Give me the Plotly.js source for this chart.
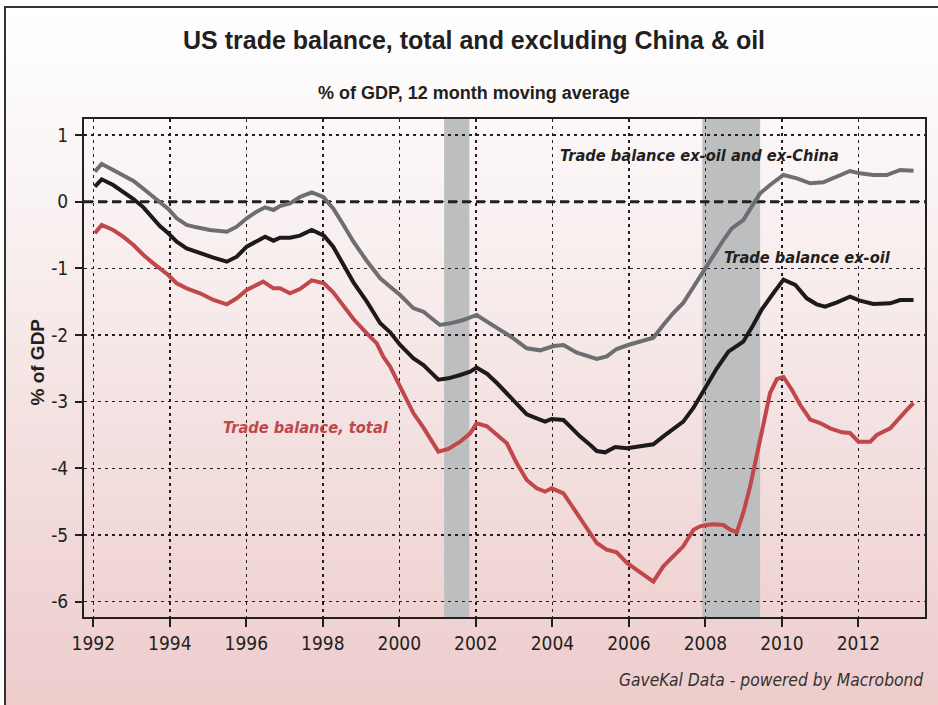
<!DOCTYPE html>
<html>
<head>
<meta charset="utf-8">
<script src="https://cdn.plot.ly/plotly-3.0.1.min.js"></script>
<style>
  html, body { margin:0; padding:0; background:#ffffff; }
  #frame { position:absolute; left:4px; top:6px; width:934px; height:699px;
           border-top:2px solid #333; border-left:2px solid #333;
           background:linear-gradient(to bottom, #ffffff 0%, #f9f1f1 30%, #f3dede 65%, #eecccc 100%); }
  #chart { position:absolute; left:0; top:0; width:938px; height:705px; }
</style>
</head>
<body>
<div id="frame"></div>
<div id="chart"></div>
<script>
// ---- data ----
const grayX = [1992.04,1992.22,1992.52,1992.78,1993.05,1993.35,1993.66,1993.96,1994.18,1994.44,1994.70,1995.05,1995.49,1995.75,1996.01,1996.27,1996.49,1996.71,1996.88,1997.14,1997.40,1997.71,1998.01,1998.27,1998.54,1998.80,1999.15,1999.50,1999.76,2000.02,2000.37,2000.63,2001.06,2001.33,2001.67,2002.02,2002.29,2002.63,2002.98,2003.33,2003.68,2004.03,2004.29,2004.64,2005.16,2005.42,2005.68,2005.98,2006.29,2006.64,2006.90,2007.16,2007.42,2007.69,2007.95,2008.21,2008.47,2008.69,2008.99,2009.21,2009.43,2009.69,2010.04,2010.39,2010.74,2011.08,2011.44,2011.78,2012.04,2012.39,2012.74,2013.09,2013.44];
const exOilExChina = [0.45,0.565,0.475,0.40,0.31,0.175,0.025,-0.11,-0.25,-0.35,-0.385,-0.425,-0.45,-0.375,-0.25,-0.15,-0.085,-0.125,-0.065,-0.025,0.07,0.14,0.07,-0.1,-0.35,-0.6,-0.89,-1.15,-1.275,-1.40,-1.60,-1.65,-1.85,-1.825,-1.775,-1.70,-1.80,-1.925,-2.05,-2.20,-2.23,-2.165,-2.15,-2.265,-2.36,-2.32,-2.21,-2.15,-2.10,-2.04,-1.85,-1.67,-1.52,-1.27,-1.05,-0.80,-0.575,-0.40,-0.275,-0.075,0.125,0.25,0.40,0.35,0.275,0.29,0.375,0.46,0.425,0.40,0.40,0.475,0.465];

const blackX = [1992.04,1992.22,1992.52,1992.78,1993.05,1993.31,1993.53,1993.74,1993.96,1994.18,1994.44,1994.79,1995.14,1995.49,1995.75,1996.01,1996.27,1996.49,1996.71,1996.88,1997.14,1997.40,1997.71,1998.03,1998.27,1998.54,1998.80,1999.15,1999.50,1999.76,2000.02,2000.37,2000.63,2001.02,2001.28,2001.59,2001.85,2002.02,2002.29,2002.55,2002.81,2003.07,2003.33,2003.59,2003.81,2003.98,2004.29,2004.46,2004.72,2004.99,2005.16,2005.38,2005.64,2005.95,2006.29,2006.64,2006.90,2007.16,2007.42,2007.69,2007.95,2008.30,2008.60,2008.99,2009.25,2009.47,2009.78,2010.04,2010.35,2010.65,2010.91,2011.13,2011.44,2011.78,2012.04,2012.39,2012.83,2013.09,2013.44];
const exOil = [0.225,0.335,0.25,0.15,0.04,-0.085,-0.225,-0.365,-0.475,-0.60,-0.70,-0.775,-0.84,-0.90,-0.825,-0.675,-0.585,-0.525,-0.585,-0.54,-0.54,-0.51,-0.425,-0.51,-0.675,-0.94,-1.21,-1.50,-1.825,-1.96,-2.15,-2.35,-2.45,-2.67,-2.65,-2.60,-2.55,-2.49,-2.58,-2.72,-2.87,-3.03,-3.19,-3.25,-3.30,-3.26,-3.275,-3.37,-3.52,-3.65,-3.74,-3.76,-3.68,-3.70,-3.67,-3.64,-3.52,-3.41,-3.30,-3.09,-2.84,-2.50,-2.25,-2.10,-1.85,-1.62,-1.37,-1.17,-1.25,-1.45,-1.54,-1.575,-1.51,-1.425,-1.485,-1.535,-1.525,-1.475,-1.475];

const redX = [1992.04,1992.22,1992.52,1992.78,1993.05,1993.31,1993.57,1993.96,1994.18,1994.44,1994.79,1995.14,1995.49,1995.75,1996.01,1996.27,1996.44,1996.71,1996.88,1997.14,1997.40,1997.71,1998.03,1998.27,1998.54,1998.80,1999.15,1999.41,1999.58,1999.76,2000.02,2000.37,2000.63,2001.02,2001.28,2001.59,2001.85,2002.02,2002.29,2002.55,2002.81,2003.07,2003.33,2003.59,2003.81,2003.98,2004.29,2004.46,2004.72,2004.99,2005.16,2005.42,2005.68,2005.95,2006.21,2006.47,2006.64,2006.90,2007.16,2007.42,2007.69,2007.86,2008.04,2008.21,2008.47,2008.65,2008.82,2008.99,2009.17,2009.43,2009.69,2009.87,2010.04,2010.26,2010.48,2010.74,2011.00,2011.26,2011.57,2011.78,2012.00,2012.31,2012.48,2012.83,2013.05,2013.27,2013.44];
const total = [-0.475,-0.35,-0.425,-0.525,-0.65,-0.80,-0.925,-1.10,-1.225,-1.30,-1.375,-1.475,-1.54,-1.45,-1.325,-1.24,-1.20,-1.30,-1.30,-1.375,-1.31,-1.18,-1.225,-1.36,-1.575,-1.76,-1.975,-2.125,-2.325,-2.475,-2.775,-3.175,-3.39,-3.75,-3.71,-3.60,-3.475,-3.325,-3.37,-3.50,-3.625,-3.925,-4.175,-4.30,-4.35,-4.30,-4.375,-4.52,-4.75,-4.97,-5.12,-5.22,-5.26,-5.42,-5.52,-5.62,-5.70,-5.47,-5.32,-5.17,-4.92,-4.87,-4.85,-4.84,-4.85,-4.92,-4.96,-4.67,-4.27,-3.57,-2.87,-2.66,-2.63,-2.82,-3.05,-3.27,-3.32,-3.40,-3.46,-3.47,-3.60,-3.60,-3.50,-3.40,-3.25,-3.12,-3.02];

const recessionStart = [2001.17, 2007.92];
const recessionEnd   = [2001.83, 2009.43];

const xTickVals = [1992,1994,1996,1998,2000,2002,2004,2006,2008,2010,2012];
const xTickText = ['1992','1994','1996','1998','2000','2002','2004','2006','2008','2010','2012'];
const yTickVals = [1,0,-1,-2,-3,-4,-5,-6];
const yTickText = ['1','0','-1','-2','-3','-4','-5','-6'];

const seriesNames = ['Trade balance ex-oil and ex-China','Trade balance ex-oil','Trade balance, total'];
const seriesColors = ['#6d6e71','#1c1a1b','#c0474a'];

// ---- styling ----
const NARROW = '"DejaVu Sans Condensed", "Liberation Sans", sans-serif';
const SANS = '"Liberation Sans", Arial, sans-serif';
const INK = '#231f20';

const traces = [
  {x: grayX, y: exOilExChina, name: seriesNames[0], color: seriesColors[0]},
  {x: blackX, y: exOil, name: seriesNames[1], color: seriesColors[1]},
  {x: redX, y: total, name: seriesNames[2], color: seriesColors[2]}
].map(s => ({x: s.x, y: s.y, name: s.name, type: 'scatter', mode: 'lines',
             line: {color: s.color, width: 4}, hoverinfo: 'skip'}));

const shapes = recessionStart.map((s, i) => ({
  type: 'rect', xref: 'x', yref: 'paper', x0: s, x1: recessionEnd[i], y0: 0, y1: 1,
  fillcolor: '#bcbec0', line: {width: 0}, layer: 'below'
}));
shapes.push({type: 'line', xref: 'paper', yref: 'y', x0: 0, x1: 1, y0: 0, y1: 0,
             line: {color: INK, width: 3, dash: '9px,5px'}, layer: 'between'});

const layout = {
  width: 938, height: 705,
  margin: {l: 84, r: 13, t: 119, b: 88},
  paper_bgcolor: 'rgba(0,0,0,0)', plot_bgcolor: 'rgba(0,0,0,0)',
  showlegend: false,
  font: {family: NARROW, color: INK, size: 19},
  xaxis: {
    range: [1991.757, 2013.74], tickmode: 'array', tickvals: xTickVals, ticktext: xTickText,
    showgrid: true, gridcolor: INK, gridwidth: 1.6, griddash: '3px,4px',
    showline: true, linecolor: INK, linewidth: 2, mirror: true,
    ticks: 'outside', ticklen: 8, tickwidth: 2, tickcolor: INK,
    tickfont: {family: NARROW, size: 19, color: INK}, zeroline: false, fixedrange: true
  },
  yaxis: {
    range: [-6.23, 1.24], tickmode: 'array', tickvals: yTickVals, ticktext: yTickText,
    showgrid: true, gridcolor: INK, gridwidth: 1.6, griddash: '3px,4px',
    showline: true, linecolor: INK, linewidth: 2, mirror: true,
    ticks: 'outside', ticklen: 7, tickwidth: 2, tickcolor: INK, ticklabelstandoff: 3,
    tickfont: {family: NARROW, size: 19, color: INK}, zeroline: false, fixedrange: true
  },
  shapes: shapes,
  annotations: [
    {text: '<b>US trade balance, total and excluding China & oil</b>', xref: 'paper', yref: 'paper',
     x: 0.4637, y: 1.158, xanchor: 'center', yanchor: 'middle', showarrow: false,
     font: {family: SANS, size: 25, color: INK}},
    {text: '<b>% of GDP, 12 month moving average</b>', xref: 'paper', yref: 'paper',
     x: 0.4637, y: 1.053, xanchor: 'center', yanchor: 'middle', showarrow: false,
     font: {family: SANS, size: 18, color: INK}},
    {text: '<b>% of GDP</b>', xref: 'paper', yref: 'paper', x: -0.0553, y: 0.512, textangle: -90,
     xanchor: 'center', yanchor: 'middle', showarrow: false,
     font: {family: SANS, size: 19, color: INK}},
    {text: '<b><i>' + seriesNames[0] + '</i></b>', xref: 'x', yref: 'y', x: 2004.15, y: 0.70,
     xanchor: 'left', yanchor: 'middle', showarrow: false, font: {family: NARROW, size: 16.3, color: INK}},
    {text: '<b><i>' + seriesNames[1] + '</i></b>', xref: 'x', yref: 'y', x: 2008.43, y: -0.83,
     xanchor: 'left', yanchor: 'middle', showarrow: false, font: {family: NARROW, size: 16.3, color: INK}},
    {text: '<b><i>' + seriesNames[2] + '</i></b>', xref: 'x', yref: 'y', x: 1995.34, y: -3.38,
     xanchor: 'left', yanchor: 'middle', showarrow: false, font: {family: NARROW, size: 16.3, color: seriesColors[2]}},
    {text: '<i>GaveKal Data - powered by Macrobond</i>', xref: 'paper', yref: 'paper', x: 1, y: -0.1265,
     xanchor: 'right', yanchor: 'middle', showarrow: false, font: {family: NARROW, size: 17.3, color: '#333'}}
  ]
};

Plotly.newPlot('chart', traces, layout, {staticPlot: true, displayModeBar: false});
</script>
</body>
</html>
